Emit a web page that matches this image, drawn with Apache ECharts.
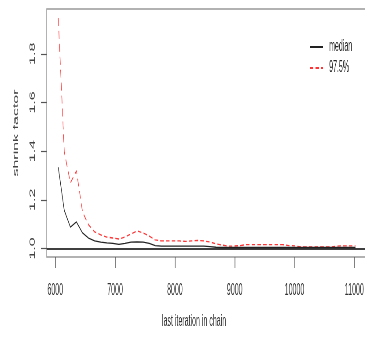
<!DOCTYPE html>
<html>
<head>
<meta charset="utf-8">
<script src="https://cdn.jsdelivr.net/npm/echarts@6/dist/echarts.min.js"></script>
<style>
html,body{margin:0;padding:0;background:#fff;}
#wrap{width:365px;height:354px;overflow:hidden;position:relative;background:#fff;}
#main{width:830px;height:354px;transform:scaleX(0.44);transform-origin:0 0;}
</style>
</head>
<body>
<div id="wrap"><div id="main"></div></div>
<script>
// last iteration in chain
const iterations = [6050, 6151, 6253, 6354, 6456, 6557, 6658, 6760, 6861, 6963,
  7064, 7165, 7267, 7368, 7470, 7571, 7672, 7774, 7875, 7977,
  8078, 8179, 8281, 8382, 8484, 8585, 8686, 8788, 8889, 8991,
  9092, 9193, 9295, 9396, 9498, 9599, 9700, 9802, 9903, 10005,
  10106, 10207, 10309, 10410, 10512, 10613, 10714, 10816, 10917, 11019];
// median shrink factor
const median = [1.334, 1.156, 1.088, 1.109, 1.064, 1.043, 1.031, 1.026, 1.023, 1.021,
  1.017, 1.021, 1.026, 1.027, 1.026, 1.021, 1.012, 1.010, 1.010, 1.010,
  1.010, 1.010, 1.010, 1.010, 1.010, 1.008, 1.005, 1.004, 1.004, 1.004,
  1.004, 1.004, 1.004, 1.004, 1.004, 1.004, 1.004, 1.004, 1.004, 1.004,
  1.004, 1.004, 1.004, 1.004, 1.004, 1.004, 1.004, 1.004, 1.004, 1.004];
// 97.5% shrink factor
const upper = [1.947, 1.396, 1.270, 1.319, 1.150, 1.097, 1.068, 1.056, 1.047, 1.043,
  1.039, 1.047, 1.060, 1.072, 1.064, 1.051, 1.035, 1.031, 1.031, 1.031,
  1.031, 1.029, 1.031, 1.033, 1.031, 1.027, 1.019, 1.014, 1.010, 1.010,
  1.012, 1.016, 1.016, 1.016, 1.016, 1.016, 1.016, 1.016, 1.012, 1.011,
  1.006, 1.006, 1.006, 1.006, 1.006, 1.006, 1.010, 1.011, 1.011, 1.011];
const xTicks = [6000, 7000, 8000, 9000, 10000, 11000];
const yTicks = [1.0, 1.2, 1.4, 1.6, 1.8];
const refLine = 1;

const chart = echarts.init(document.getElementById('main'), null, {renderer: 'canvas'});
const font = 'Liberation Sans, Arial, sans-serif';
chart.setOption({
  animation: false,
  backgroundColor: '#fff',
  grid: {left: 106, right: 0, top: 9, bottom: 97, show: true, borderColor: '#999', borderWidth: 1.5, backgroundColor: 'transparent'},
  legend: {
    orient: 'vertical', left: 698, top: 34, itemWidth: 30, itemHeight: 16, itemGap: 5,
    itemStyle: {opacity: 0},
    textStyle: {fontFamily: font, fontSize: 16, color: '#222', padding: [0, 0, 0, 9]},
    data: ['median', '97.5%']
  },
  xAxis: {
    type: 'value', min: 5856, max: 11182,
    name: 'last iteration in chain', nameLocation: 'middle', nameGap: 57,
    nameTextStyle: {fontFamily: font, fontSize: 16, color: '#333', padding: [0, 54, 0, 0]},
    axisLine: {show: false},
    splitLine: {show: false},
    axisTick: {show: true, length: 11, customValues: xTicks, lineStyle: {color: '#555', width: 1.5}},
    axisLabel: {customValues: xTicks, margin: 26, fontFamily: font, fontSize: 16, color: '#333',
      formatter: v => String(Math.round(v))}
  },
  yAxis: {
    type: 'value', min: 0.965, max: 1.984,
    name: 'shrink factor', nameLocation: 'middle', nameGap: 61,
    nameTextStyle: {fontFamily: font, fontSize: 16, color: '#444'},
    axisLine: {show: false},
    splitLine: {show: false},
    axisTick: {show: true, length: 13, customValues: yTicks, lineStyle: {color: '#555', width: 1.2}},
    axisLabel: {customValues: yTicks, rotate: 90, margin: 23, fontFamily: font, fontSize: 16, color: '#444',
      formatter: v => Number(v).toFixed(1)}
  },
  series: [
    {
      name: 'median', type: 'line', symbol: 'none', showSymbol: false,
      data: iterations.map((x, i) => [x, median[i]]),
      lineStyle: {color: '#222', width: 1.3},
      itemStyle: {color: '#222'},
      markLine: {
        silent: true, symbol: 'none', label: {show: false},
        lineStyle: {color: '#000', width: 1.6, type: 'solid'},
        data: [{yAxis: refLine}]
      },
      z: 3
    },
    {
      name: '97.5%', type: 'line', symbol: 'none', showSymbol: false,
      data: iterations.map((x, i) => [x, upper[i]]),
      lineStyle: {color: '#ff3535', width: 1.3, type: [8, 5]},
      itemStyle: {color: '#ff3535'},
      z: 2
    }
  ]
});
</script>
</body>
</html>
